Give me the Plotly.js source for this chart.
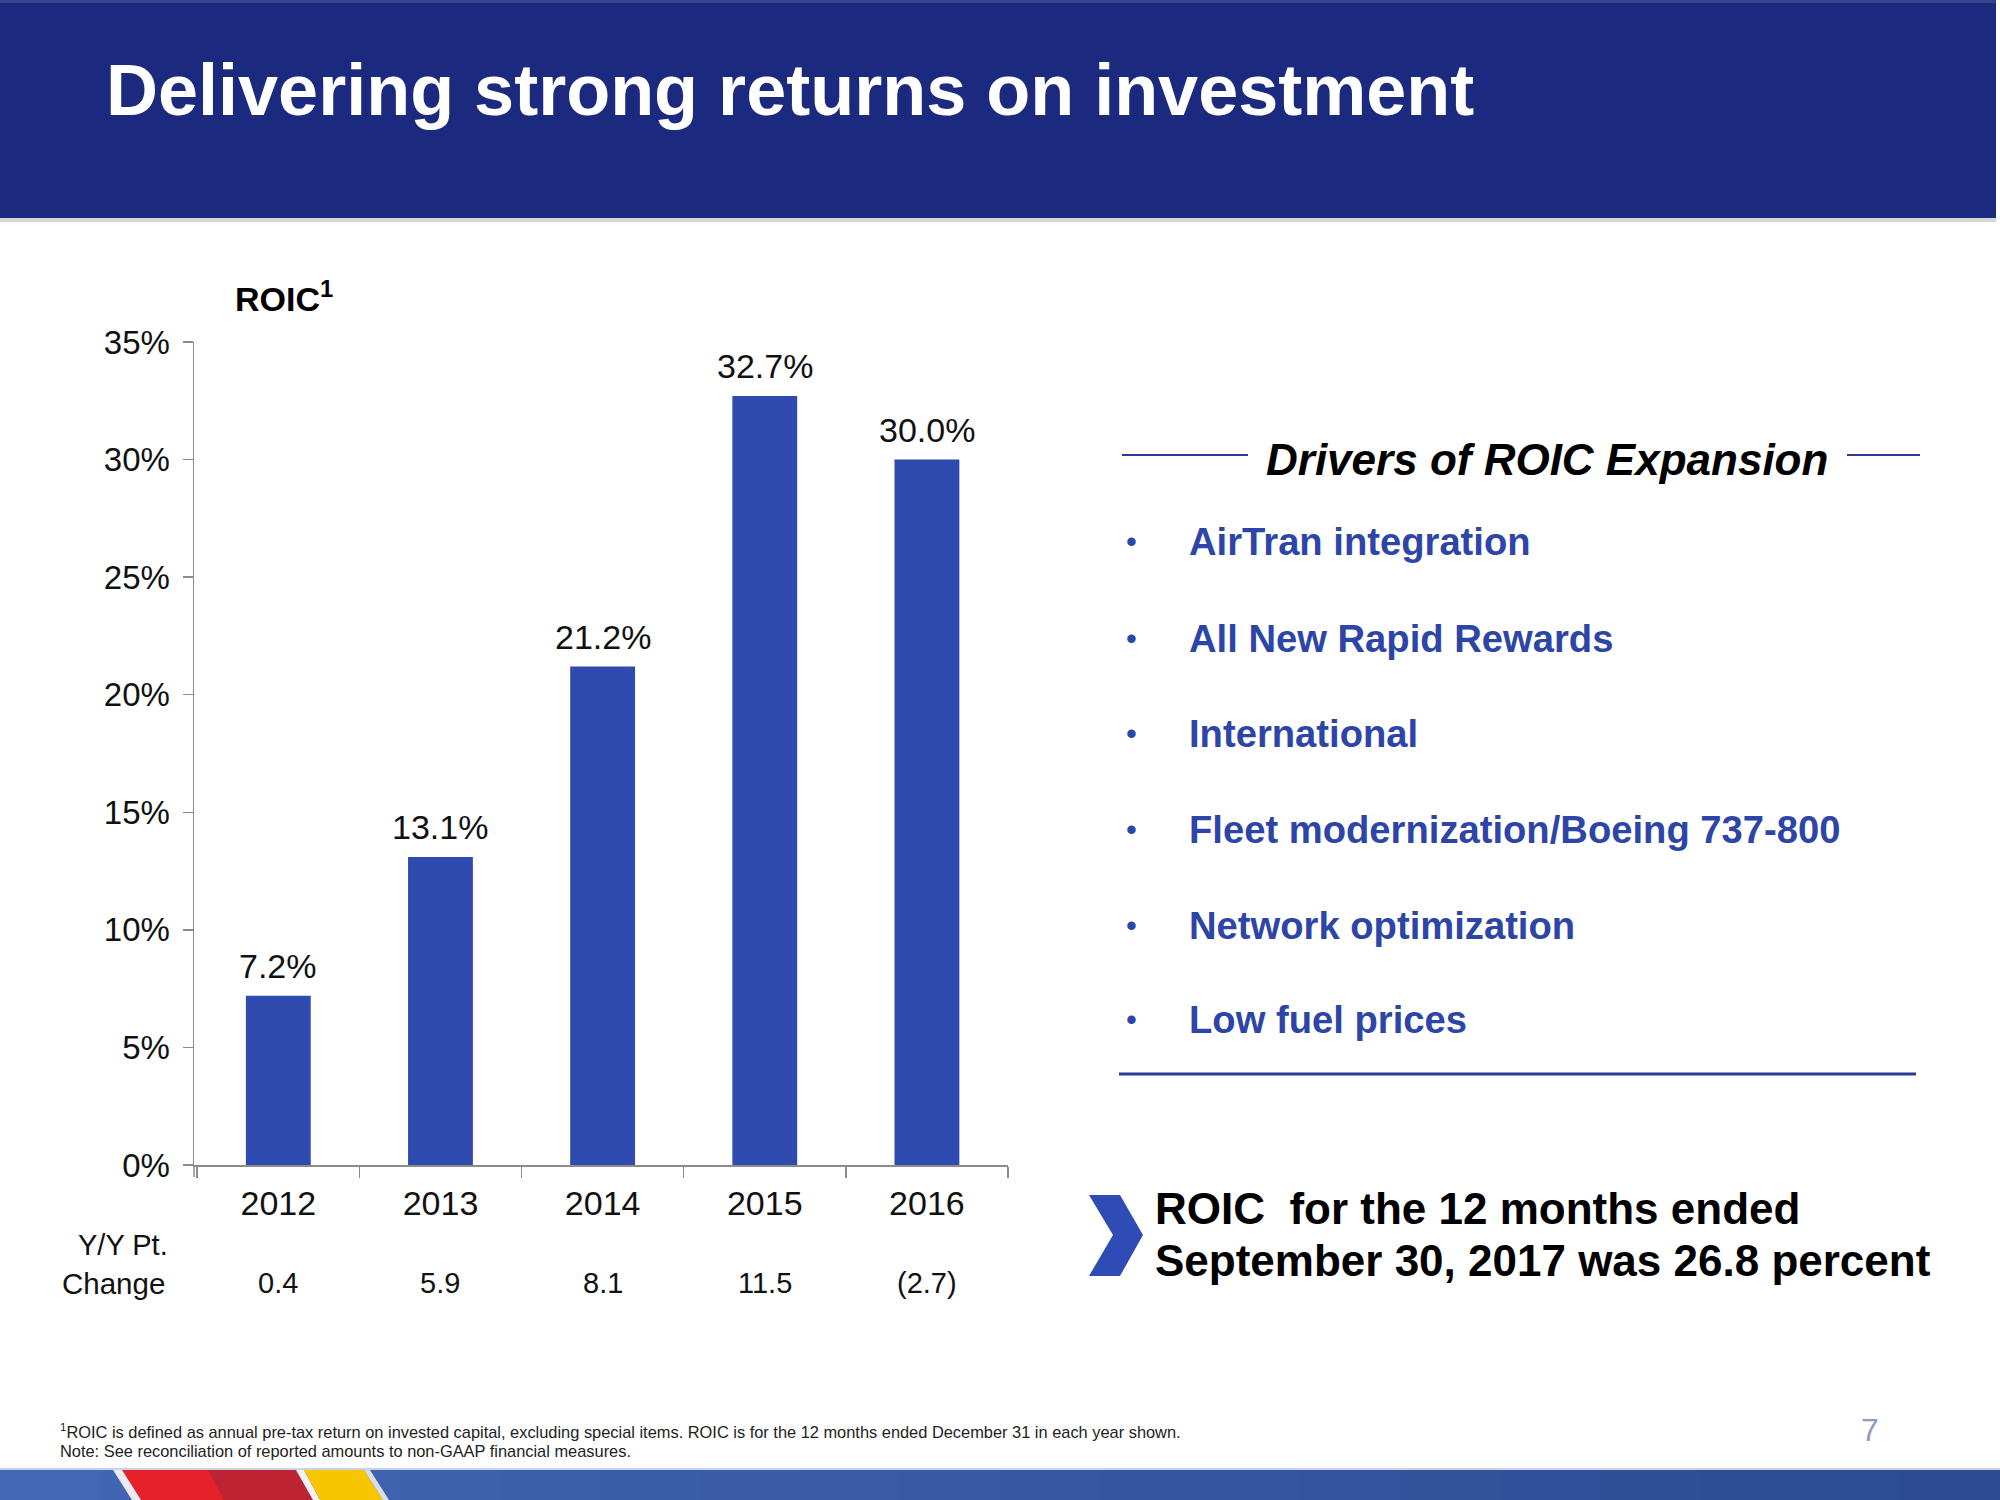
<!DOCTYPE html>
<html>
<head>
<meta charset="utf-8">
<script src="https://cdn.plot.ly/plotly-3.0.1.min.js"></script>
<style>html,body{margin:0;padding:0;background:#fff;}#chart{width:2000px;height:1500px;}</style>
</head>
<body>
<div id="chart"></div>
<script>
// ---- data ----
const years = ['2012', '2013', '2014', '2015', '2016'];
const roic = [7.2, 13.1, 21.2, 32.7, 30.0];
const yoyChange = ['0.4', '5.9', '8.1', '11.5', '(2.7)'];
const yTicks = [0, 5, 10, 15, 20, 25, 30, 35];
const yTickText = ['0%', '5%', '10%', '15%', '20%', '25%', '30%', '35%'];
const slideTitle = 'Delivering strong returns on investment';
const chartLabel = 'ROIC<sup>1</sup>';
const driversTitle = 'Drivers of ROIC Expansion';
const drivers = ['AirTran integration', 'All New Rapid Rewards', 'International',
  'Fleet modernization/Boeing 737-800', 'Network optimization', 'Low fuel prices'];
const callout = ['ROIC  for the 12 months ended', 'September 30, 2017 was 26.8 percent'];
const footnotes = ['<sup>1</sup>ROIC is defined as annual pre-tax return on invested capital, excluding special items. ROIC is for the 12 months ended December 31 in each year shown.',
  'Note: See reconciliation of reported amounts to non-GAAP financial measures.'];
const pageNumber = '7';

// ---- layout helpers ----
const W = 2000, H = 1500;
const px = x => x / W;
const py = y => 1 - y / H;
const SANS = '"Liberation Sans", Arial, sans-serif';
const BAR = '#304BB0';
const NAVY = '#1B2A7E';
const TEXTBLUE = '#2E45A8';
const AXIS = '#8C8C8C';

function pathOf(pts) {
  return 'M' + pts.map(p => px(p[0]) + ',' + py(p[1])).join(' L') + ' Z';
}
function rect(x0, y0, x1, y1, color) {
  return {type: 'rect', xref: 'paper', yref: 'paper', x0: px(x0), x1: px(x1), y0: py(y1), y1: py(y0),
    fillcolor: color, line: {width: 0}, layer: 'above'};
}
function line(x0, y0, x1, y1, color, w) {
  return {type: 'line', xref: 'paper', yref: 'paper', x0: px(x0), x1: px(x1), y0: py(y0), y1: py(y1),
    line: {color: color, width: w}, layer: 'above'};
}
function poly(pts, color) {
  return {type: 'path', xref: 'paper', yref: 'paper', path: pathOf(pts), fillcolor: color,
    line: {width: 0}, layer: 'above'};
}
function note(text, x, y, size, color, family, xanchor, extra) {
  return Object.assign({xref: 'paper', yref: 'paper', x: px(x), y: py(y), text: text,
    showarrow: false, xanchor: xanchor || 'left', yanchor: 'middle',
    font: {size: size, color: color, family: family}}, extra || {});
}

const shapes = [];
// header
shapes.push(rect(0, 0, 1996, 218, NAVY));
shapes.push(rect(0, 0, 1996, 3, '#34448F'));
shapes.push(rect(0, 218, 1996, 222, '#D6D6D6'));
// y-axis line continues below the baseline like a boundary tick
shapes.push(line(194, 1165, 194, 1177, AXIS, 1.5));
// drivers lines
shapes.push(line(1122, 455, 1248, 455, '#2B3A93', 2));
shapes.push(line(1847, 455, 1920, 455, '#2B3A93', 2));
shapes.push(line(1119, 1074, 1916, 1074, '#2B3A93', 3));
// chevron
shapes.push(poly([[1089, 1195], [1120, 1195], [1143, 1235], [1120, 1276], [1089, 1276], [1113, 1235]], '#2F4BB5'));
// bottom strip (stepped gradient)
const nSeg = 20;
const c0 = [66, 103, 180], c1 = [44, 74, 148];
for (let i = 0; i < nSeg; i++) {
  const t = i / (nSeg - 1);
  const c = c0.map((v, k) => Math.round(v + (c1[k] - v) * t));
  shapes.push(rect(i * W / nSeg, 1470, (i + 1) * W / nSeg + 1, 1500, 'rgb(' + c.join(',') + ')'));
}
shapes.push(rect(0, 1468, 2000, 1470, '#C9D3E6'));
shapes.push(poly([[113, 1470], [124, 1470], [143, 1500], [132, 1500]], '#E9ECF3'));
shapes.push(poly([[122, 1470], [210, 1470], [226, 1500], [141, 1500]], '#E52129'));
shapes.push(poly([[208, 1470], [296, 1470], [313, 1500], [224, 1500]], '#BE2333'));
shapes.push(poly([[296, 1470], [304, 1470], [320, 1500], [313, 1500]], '#F2F2F2'));
shapes.push(poly([[304, 1470], [364, 1470], [383, 1500], [320, 1500]], '#F7C600'));
shapes.push(poly([[364, 1470], [370, 1470], [389, 1500], [383, 1500]], '#D9DEEA'));

const annotations = [];
annotations.push(note('<b>' + slideTitle + '</b>', 104, 90, 72, '#FFFFFF', SANS, 'left'));
annotations.push(note('<b>' + chartLabel + '</b>', 233, 297, 34, '#000000', SANS, 'left'));
// bar value labels and Y/Y change row (x = category index on the category axis)
years.forEach((yr, i) => {
  annotations.push({xref: 'x', yref: 'y', x: i, y: roic[i], text: roic[i].toFixed(1) + '%',
    showarrow: false, xanchor: 'center', yanchor: 'bottom', yshift: 9,
    font: {size: 34, color: '#111111', family: SANS}});
  annotations.push({xref: 'x', yref: 'paper', x: i, y: py(1283), text: yoyChange[i],
    showarrow: false, xanchor: 'center', yanchor: 'middle',
    font: {size: 29, color: '#111111', family: SANS}});
});
annotations.push(note('Y/Y Pt.', 170, 1245, 29, '#111111', SANS, 'right'));
annotations.push(note('Change', 167, 1283, 29.5, '#111111', SANS, 'right'));
// drivers
annotations.push(note('<b><i>' + driversTitle + '</i></b>', 1547, 460, 44, '#000000', SANS, 'center'));
const driverY = [542, 638, 733, 829, 925, 1019];
drivers.forEach((d, i) => {
  annotations.push(note('•', 1131, driverY[i], 31, TEXTBLUE, SANS, 'center'));
  annotations.push(note('<b>' + d + '</b>', 1187, driverY[i], 38.2, TEXTBLUE, SANS, 'left'));
});
annotations.push(note('<b>' + callout[0] + '</b>', 1153, 1208, 44, '#000000', SANS, 'left'));
annotations.push(note('<b>' + callout[1] + '</b>', 1153, 1260, 44, '#000000', SANS, 'left'));
annotations.push(note(footnotes[0], 58, 1431, 16.4, '#222222', SANS, 'left'));
annotations.push(note(footnotes[1], 58, 1451, 16.4, '#222222', SANS, 'left'));
annotations.push(note(pageNumber, 1870, 1430, 32, '#8E9CC2', SANS, 'center'));

const trace = {
  type: 'bar', x: years, y: roic, xaxis: 'x', yaxis: 'y',
  marker: {color: BAR, line: {width: 0}}, hoverinfo: 'skip', showlegend: false
};

const layout = {
  width: W, height: H,
  margin: {l: 0, r: 0, t: 0, b: 0, pad: 0},
  paper_bgcolor: '#FFFFFF', plot_bgcolor: 'rgba(0,0,0,0)',
  showlegend: false, bargap: 0.6,
  xaxis: {
    domain: [px(194), px(1008)], type: 'category', range: [-0.52, 4.5], autorange: false,
    showline: true, linecolor: AXIS, linewidth: 1.5,
    ticks: 'outside', tickson: 'boundaries', ticklen: 11, tickcolor: AXIS, tickwidth: 1.5,
    tickfont: {size: 34, color: '#111111', family: SANS}, ticklabelstandoff: 8, tickangle: 0,
    showgrid: false, zeroline: false, fixedrange: true
  },
  yaxis: {
    domain: [py(1165), py(342)], range: [0, 35], autorange: false,
    tickvals: yTicks, ticktext: yTickText,
    showline: true, linecolor: AXIS, linewidth: 1.5,
    ticks: 'outside', ticklen: 10, tickcolor: AXIS, tickwidth: 1.5,
    tickfont: {size: 33, color: '#111111', family: SANS}, ticklabelstandoff: 6,
    showgrid: false, zeroline: false, fixedrange: true
  },
  shapes: shapes,
  annotations: annotations
};

Plotly.newPlot('chart', [trace], layout, {staticPlot: true, displayModeBar: false});
</script>
</body>
</html>
